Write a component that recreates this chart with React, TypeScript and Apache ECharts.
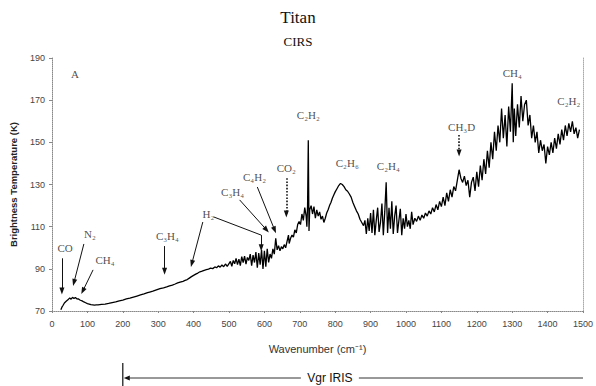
import React, { useEffect, useRef } from "react";
import * as echarts from "echarts";

// Titan CIRS brightness-temperature spectrum: [wavenumber (cm-1), T (K)]
const spectrum: [number, number][] = [
  [25, 70.6], [28, 71.8], [31, 72.6], [35, 73.8], [40, 74.6], [45, 75.3], [50, 76.2], [54, 75.6], [58, 76.5], [62, 75.9],
  [66, 76.4], [70, 75.8], [75, 75.7], [80, 75.1], [85, 74.8], [90, 74.3], [95, 73.9], [100, 73.5], [105, 73.3], [110, 73.0],
  [115, 72.9], [120, 72.8], [125, 72.9], [130, 72.9], [140, 73.1], [150, 73.3], [160, 73.6], [170, 74.0], [180, 74.3], [190, 74.8],
  [200, 75.2], [210, 75.7], [220, 76.1], [230, 76.6], [240, 77.1], [250, 77.6], [260, 78.1], [270, 78.7], [276, 79.0], [285, 79.4],
  [295, 80.0], [305, 80.6], [315, 81.0], [324, 81.4], [332, 81.9], [340, 82.3], [348, 82.8], [355, 83.3], [362, 83.7], [370, 84.1],
  [376, 84.5], [382, 84.9], [388, 85.6], [394, 86.3], [400, 86.9], [406, 87.5], [412, 88.0], [418, 88.6], [424, 88.9], [430, 89.3],
  [436, 89.6], [442, 89.9], [448, 90.3], [454, 90.1], [460, 90.9], [465, 90.5], [470, 91.4], [475, 90.8], [480, 91.8], [485, 91.0],
  [490, 92.3], [495, 91.2], [500, 92.5], [504, 93.5], [508, 91.2], [512, 94.0], [516, 92.4], [520, 95.0], [524, 92.0], [528, 94.6],
  [532, 91.5], [536, 95.8], [540, 93.0], [544, 96.0], [548, 92.2], [552, 95.4], [556, 94.0], [560, 97.0], [564, 91.5], [568, 96.5],
  [572, 93.0], [576, 98.0], [580, 90.5], [584, 97.5], [588, 92.0], [592, 99.0], [596, 90.0], [600, 98.5], [604, 91.0], [608, 99.5],
  [612, 93.0], [616, 97.0], [620, 95.0], [624, 99.5], [628, 97.0], [632, 104.5], [636, 99.0], [640, 101.0], [644, 98.5], [648, 100.5],
  [652, 99.5], [656, 101.5], [660, 100.0], [664, 103.0], [668, 106.0], [670, 102.0], [674, 104.5], [678, 106.0], [682, 105.0], [686, 108.5],
  [690, 107.0], [694, 111.0], [698, 112.5], [702, 111.0], [706, 116.0], [710, 113.0], [714, 119.0], [718, 115.0], [720, 110.0], [722, 120.0],
  [724, 151.0], [726, 108.0], [728, 118.0], [732, 120.0], [736, 116.0], [740, 119.5], [744, 114.0], [748, 118.0], [752, 115.0], [756, 117.0],
  [760, 113.5], [764, 115.0], [768, 112.0], [772, 114.0], [776, 116.5], [780, 118.0], [784, 120.0], [788, 121.5], [792, 123.5], [796, 125.0],
  [800, 126.5], [805, 128.0], [810, 129.5], [815, 130.5], [820, 130.0], [825, 129.0], [830, 127.5], [835, 126.8], [840, 125.5], [845, 124.0],
  [850, 121.5], [855, 119.5], [860, 117.5], [865, 116.0], [870, 113.5], [875, 112.0], [880, 110.5], [884, 113.0], [888, 106.5], [892, 114.0],
  [896, 108.0], [900, 116.5], [904, 107.0], [908, 118.0], [912, 106.0], [916, 113.0], [920, 119.0], [924, 107.5], [928, 112.0], [932, 121.0],
  [936, 106.0], [940, 117.0], [944, 131.0], [948, 107.0], [952, 119.0], [956, 109.0], [960, 122.0], [964, 106.5], [968, 115.0], [972, 120.0],
  [976, 107.0], [980, 113.0], [984, 118.5], [988, 106.0], [992, 114.0], [996, 109.0], [1000, 116.0], [1004, 110.0], [1008, 113.0], [1012, 109.0],
  [1016, 117.0], [1020, 111.0], [1025, 114.0], [1030, 112.5], [1035, 115.0], [1040, 113.0], [1045, 115.5], [1050, 114.0], [1055, 116.5], [1060, 115.0],
  [1065, 117.5], [1070, 116.0], [1075, 119.0], [1080, 117.0], [1085, 120.5], [1090, 118.0], [1095, 122.0], [1100, 119.5], [1105, 124.0], [1110, 120.0],
  [1115, 126.0], [1120, 122.0], [1125, 127.5], [1130, 124.0], [1135, 129.0], [1140, 127.0], [1145, 132.0], [1150, 137.0], [1155, 133.0], [1160, 131.0],
  [1165, 134.0], [1170, 129.5], [1175, 132.0], [1180, 124.0], [1185, 131.0], [1190, 133.5], [1195, 127.0], [1200, 136.0], [1205, 129.0], [1210, 139.0],
  [1215, 132.0], [1220, 142.0], [1225, 135.0], [1230, 146.0], [1235, 138.0], [1240, 150.0], [1245, 142.0], [1250, 155.0], [1255, 146.0], [1260, 158.0],
  [1265, 150.0], [1270, 166.0], [1275, 152.0], [1280, 163.0], [1285, 148.0], [1290, 167.0], [1295, 155.0], [1300, 178.0], [1303, 150.0], [1306, 166.0],
  [1310, 153.0], [1315, 168.0], [1320, 157.0], [1325, 172.0], [1330, 160.0], [1335, 168.0], [1340, 170.0], [1345, 158.0], [1350, 163.0], [1355, 152.0],
  [1360, 158.0], [1365, 150.0], [1370, 155.0], [1375, 145.0], [1380, 151.0], [1385, 146.0], [1390, 149.0], [1395, 140.0], [1400, 148.0], [1405, 144.0],
  [1410, 150.0], [1415, 145.0], [1420, 152.0], [1425, 147.0], [1430, 154.0], [1435, 149.0], [1440, 156.0], [1445, 151.0], [1450, 158.0], [1455, 153.0],
  [1460, 159.0], [1465, 155.0], [1470, 160.0], [1475, 154.0], [1480, 157.0], [1485, 152.0], [1490, 156.0],
];

// Molecule labels: text, wavenumber, temperature
const labelNames: string[] = ["A", "CO", "N₂", "CH₄", "C₃H₄", "H₂", "C₃H₄", "C₄H₂", "CO₂", "C₂H₂", "C₂H₆", "C₂H₄", "CH₃D", "CH₄", "C₂H₂"];
const labelX: number[] = [65, 37, 107, 150, 326, 442, 510, 572, 662, 724, 834, 950, 1157, 1300, 1460];
const labelY: number[] = [182.5, 100, 106.5, 94, 105.6, 116, 126.5, 133.6, 137.8, 162.8, 140, 139, 157.3, 182.8, 169.5];

// Arrows: [x1, y1, x2, y2, dotted(1/0), arrowhead(1/0)]
const arrows: number[][] = [
  [28, 95, 28, 79.5, 0, 1],
  [90, 101.8, 62, 83.5, 0, 1],
  [116, 89.5, 87, 79.5, 0, 1],
  [318, 100.8, 318, 88.8, 0, 1],
  [426, 112.2, 395, 92.5, 0, 1],
  [457, 114.6, 591, 106, 0, 0],
  [591, 106, 591, 100, 0, 1],
  [530, 122.7, 606, 108.5, 0, 1],
  [580, 128.8, 629, 108.4, 0, 1],
  [662, 133, 662, 116, 1, 1],
  [1150, 153.5, 1150, 145, 1, 1],
];

const xTicks = { min: 0, max: 1500, interval: 100 };
const yTicks = { min: 70, max: 190, interval: 20 };
const irisStart = 200;
const irisEnd = 1500;

export default function App() {
  const ref = useRef<HTMLDivElement>(null);
  useEffect(() => {
    if (!ref.current) return;
    const chart = echarts.init(ref.current, null, { renderer: "svg" });
    const serif = "'Liberation Serif', 'DejaVu Serif', serif";
    const sans = "'Liberation Sans', Arial, sans-serif";
    const markData = arrows.map((a) => [
      { coord: [a[0], a[1]], symbol: "none" },
      {
        coord: [a[2], a[3]],
        symbol: a[5] ? "triangle" : "none",
        symbolSize: [5, 7],
        lineStyle: { type: a[4] ? "dotted" : "solid", width: a[4] ? 1.6 : 1, color: "#111" },
      },
    ]);
    chart.setOption({
      animation: false,
      backgroundColor: "#fff",
      title: [
        { text: "Titan", left: "center", top: 4, textStyle: { fontFamily: serif, fontSize: 17, fontWeight: "normal", color: "#111" } },
        { text: "CIRS", left: "center", top: 30, textStyle: { fontFamily: serif, fontSize: 13, fontWeight: "normal", color: "#111" } },
      ],
      grid: { left: 52, right: 13, top: 58, bottom: 75, containLabel: false },
      xAxis: {
        type: "value",
        min: xTicks.min,
        max: xTicks.max,
        interval: xTicks.interval,
        name: "Wavenumber (cm⁻¹)",
        nameLocation: "middle",
        nameGap: 32,
        nameTextStyle: { fontFamily: sans, fontSize: 11, color: "#333" },
        axisLine: { lineStyle: { color: "#888", type: "dotted", width: 1 } },
        axisTick: { show: true, length: 2, lineStyle: { color: "#888" } },
        axisLabel: { fontFamily: sans, fontSize: 9, color: "#444", margin: 8, formatter: (v: number) => String(v) },
        splitLine: { show: false },
      },
      yAxis: [
        {
          type: "value",
          min: yTicks.min,
          max: yTicks.max,
          interval: yTicks.interval,
          name: "Brightness Temperature (K)",
          nameLocation: "middle",
          nameGap: 34,
          nameTextStyle: { fontFamily: sans, fontSize: 9.5, fontWeight: "bold", color: "#222" },
          axisLine: { show: true, lineStyle: { color: "#888", type: "dotted", width: 1 } },
          axisTick: { show: true, length: 3, lineStyle: { color: "#888" } },
          axisLabel: { fontFamily: sans, fontSize: 9, color: "#444", margin: 7 },
          splitLine: { show: false },
        },
        {
          type: "value",
          min: yTicks.min,
          max: yTicks.max,
          interval: yTicks.interval,
          position: "right",
          axisLine: { show: true, lineStyle: { color: "#aaa", type: "dotted", width: 1 } },
          axisTick: { show: false },
          axisLabel: { show: false },
          splitLine: { show: false },
        },
      ],
      series: [
        {
          type: "line",
          data: spectrum,
          showSymbol: false,
          symbol: "none",
          lineStyle: { color: "#000", width: 1.3 },
          z: 3,
          markLine: {
            silent: true,
            symbol: ["none", "triangle"],
            symbolSize: [5, 7],
            label: { show: false },
            lineStyle: { color: "#111", width: 1, type: "solid" },
            data: markData,
          },
        },
        {
          type: "scatter",
          symbolSize: 0,
          data: labelNames.map((n, i) => ({ name: n, value: [labelX[i], labelY[i]] })),
          label: {
            show: true,
            position: "inside",
            formatter: "{b}",
            fontFamily: serif,
            fontSize: 11,
            color: "#222",
          },
          z: 5,
        },
      ],
    });

    const px0 = chart.convertToPixel({ xAxisIndex: 0 }, irisStart) as number;
    const px1 = chart.convertToPixel({ xAxisIndex: 0 }, irisEnd) as number;
    const yLine = 378;
    const tx = px0 + (px1 - px0) * 0.45;
    chart.setOption({
      graphic: [
        { type: "line", shape: { x1: px0, y1: 363, x2: px0, y2: 386 }, style: { stroke: "#111", lineWidth: 1.2 } },
        { type: "polygon", shape: { points: [[px0 + 1, yLine], [px0 + 7, yLine - 2.5], [px0 + 7, yLine + 2.5]] }, style: { fill: "#111" } },
        { type: "line", shape: { x1: px0 + 6, y1: yLine, x2: tx - 29, y2: yLine }, style: { stroke: "#333", lineWidth: 1 } },
        {
          type: "text",
          x: tx,
          y: yLine,
          style: { text: "Vgr IRIS", fontFamily: sans, fontSize: 12, fill: "#111", align: "center", verticalAlign: "middle" },
        },
        { type: "line", shape: { x1: tx + 29, y1: yLine, x2: px1, y2: yLine }, style: { stroke: "#333", lineWidth: 1 } },
      ],
    });
    return () => chart.dispose();
  }, []);
  return <div ref={ref} style={{ position: "absolute", left: 0, top: 0, width: 596, height: 386 }} />;
}
